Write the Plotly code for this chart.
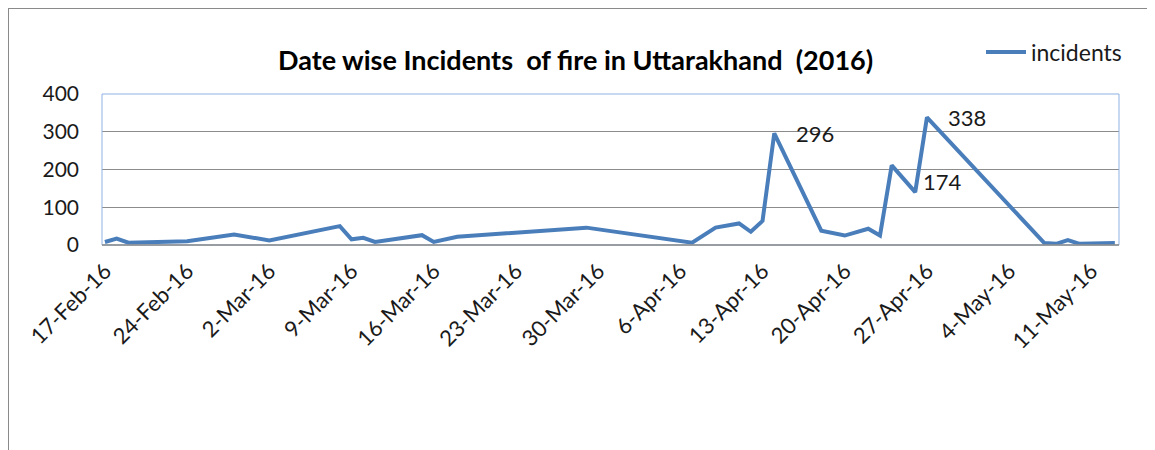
import plotly.graph_objects as go

dates = ["2016-02-17", "2016-02-18", "2016-02-19", "2016-02-24", "2016-02-28",
         "2016-03-02", "2016-03-08", "2016-03-09", "2016-03-10", "2016-03-11",
         "2016-03-15", "2016-03-16", "2016-03-18", "2016-03-29", "2016-04-07",
         "2016-04-09", "2016-04-11", "2016-04-12", "2016-04-13", "2016-04-14",
         "2016-04-18", "2016-04-20", "2016-04-22", "2016-04-23", "2016-04-24",
         "2016-04-26", "2016-04-27", "2016-05-07", "2016-05-08", "2016-05-09",
         "2016-05-10", "2016-05-13"]
incidents = [8, 17, 6, 10, 28, 12, 50, 15, 19, 8, 26, 8, 22, 46, 6,
             46, 57, 35, 64, 296, 38, 25, 43, 25, 211, 140, 338, 5, 3, 13, 3, 5]

tick_dates = ["2016-02-17", "2016-02-24", "2016-03-02", "2016-03-09", "2016-03-16",
              "2016-03-23", "2016-03-30", "2016-04-06", "2016-04-13", "2016-04-20",
              "2016-04-27", "2016-05-04", "2016-05-11"]
tick_labels = ["17-Feb-16", "24-Feb-16", "2-Mar-16", "9-Mar-16", "16-Mar-16",
               "23-Mar-16", "30-Mar-16", "6-Apr-16", "13-Apr-16", "20-Apr-16",
               "27-Apr-16", "4-May-16", "11-May-16"]
y_ticks = [0, 100, 200, 300, 400]

label_dates = ["2016-04-14", "2016-04-27", "2016-04-26"]
label_values = [296, 338, 140]
label_texts = ["296", "338", "174"]

FONT = "Lato"
LINE = "#4A7EBB"

# page offset (body margin) of the rendered html
OFF = 8

fig = go.Figure()
fig.add_trace(go.Scatter(x=dates, y=incidents, mode="lines", name="incidents",
                         line=dict(color=LINE, width=4)))

# plot area in screenshot pixels
SL, SR, ST, SB = 102, 1119, 94, 245
L, R, T, B = SL - OFF, SR - OFF, ST - OFF, SB - OFF
W, H = SR - SL, SB - ST

def px(x):
    return (x - SL) / W

def py(y):
    return (SB - y) / H

annotations = []
shifts = [(20, 0), (19, 0), (6, 11)]
for d, v, t, (dx, dy) in zip(label_dates, label_values, label_texts, shifts):
    annotations.append(dict(x=d, y=v, xref="x", yref="y", text=t, showarrow=False,
                            xanchor="left", yanchor="middle", xshift=dx, yshift=dy,
                            font=dict(family=FONT, size=22, color="#1a1a1a")))
annotations.append(dict(x=px(575), y=py(60), xref="paper", yref="paper",
                        text="<b>Date wise Incidents  of fire in Uttarakhand  (2016)</b>",
                        showarrow=False, xanchor="center", yanchor="middle",
                        font=dict(family=FONT, size=27, color="#000000")))

shapes = [
    dict(type="rect", xref="paper", yref="paper", x0=0, x1=1, y0=0, y1=1,
         line=dict(color="#8DB3E2", width=1), layer="above"),
    dict(type="line", xref="paper", yref="paper", x0=0, x1=1, y0=0, y1=0,
         line=dict(color="#898989", width=1.5), layer="above"),
    dict(type="line", xref="paper", yref="paper", x0=px(8), x1=px(1170), y0=py(8), y1=py(8),
         line=dict(color="#8A8A8A", width=2)),
    dict(type="line", xref="paper", yref="paper", x0=px(8), x1=px(8), y0=py(8), y1=py(470),
         line=dict(color="#8A8A8A", width=2)),
]

fig.update_layout(
    width=1155, height=450,
    margin=dict(l=L, r=1155 - R, t=T, b=450 - B),
    paper_bgcolor="white", plot_bgcolor="white",
    font=dict(family=FONT, size=22, color="#1a1a1a"),
    showlegend=True,
    legend=dict(x=px(981), y=py(52), xanchor="left", yanchor="middle",
                font=dict(family=FONT, size=23, color="#1a1a1a"),
                bgcolor="rgba(0,0,0,0)", itemwidth=40),
    annotations=annotations,
    shapes=shapes,
    xaxis=dict(type="date", range=["2016-02-16 18:00", "2016-05-13 08:30"],
               tickvals=tick_dates, ticktext=tick_labels, tickangle=-45,
               showgrid=False, zeroline=False, showline=False, ticks="",
               ticklabelstandoff=8,
               tickfont=dict(family=FONT, size=22, color="#1a1a1a")),
    yaxis=dict(range=[0, 400], tickvals=y_ticks, showgrid=True, gridcolor="#8C8C8C",
               gridwidth=1, zeroline=False, showline=False, ticks="",
               ticklabelstandoff=22,
               tickfont=dict(family=FONT, size=21, color="#1a1a1a")),
)

fig.write_html("out.html")
